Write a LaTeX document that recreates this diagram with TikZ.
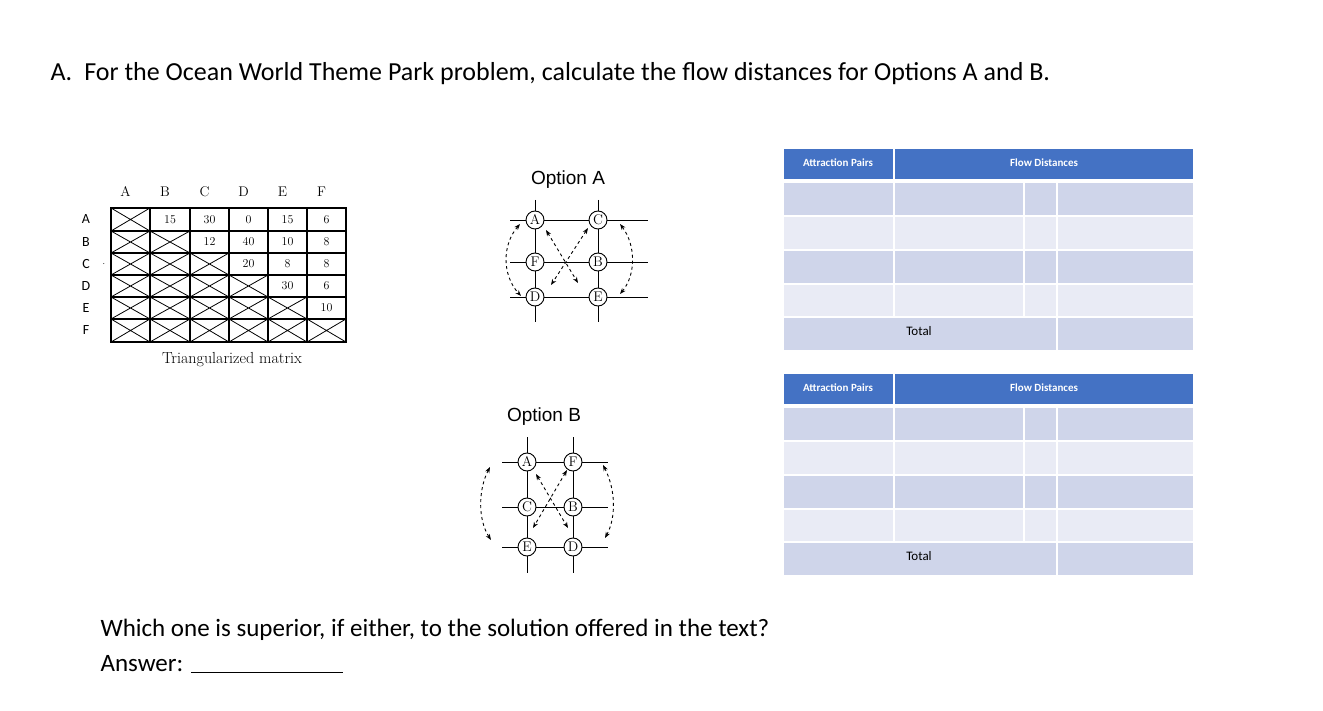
\documentclass[tikz,border=0pt]{standalone}
\usepackage{fontspec}
\setmainfont{Carlito}
\newfontfamily\serifm{Latin Modern Roman}
\newfontfamily\arialf{Liberation Sans}
\usetikzlibrary{arrows.meta}
\definecolor{hdr}{HTML}{4472C4}
\definecolor{rdark}{HTML}{CFD5EA}
\definecolor{rlight}{HTML}{E9EBF5}
\tikzset{
 circ/.style={circle,draw,line width=0.9pt,fill=white,minimum size=18pt,inner sep=0pt,font=\serifm\fontsize{14}{14}\selectfont},
 gridln/.style={line width=0.9pt},
 flowarr/.style={dashed,line width=0.9pt,{Stealth[length=6pt]}-{Stealth[length=6pt]}},
 cellx/.style={line width=0.8pt},
}
\begin{document}
\begin{tikzpicture}[x=1pt,y=-1pt]
\useasboundingbox (0,0) rectangle (1323,711);
\node[anchor=base west,font=\fontsize{26}{26}\selectfont] (title) at (47,81) {A.\hspace{12pt}For the Ocean World Theme Park problem, calculate the flow distances for Options A and B.};
% matrix
\def\xs{{111,150,190,229,268,307,346}}
\def\ys{{208,231,253,275,297,319,342}}
\foreach \r in {0,...,5}{\foreach \c in {0,...,5}{
 \pgfmathtruncatemacro\cn{\c+1}\pgfmathtruncatemacro\rn{\r+1}
 \pgfmathsetmacro\xa{\xs[\c]}\pgfmathsetmacro\xb{\xs[\cn]}
 \pgfmathsetmacro\ya{\ys[\r]}\pgfmathsetmacro\yb{\ys[\rn]}
 \draw[line width=1.2pt] (\xa,\ya) rectangle (\xb,\yb);
 \ifnum\c>\r\else \draw[cellx] (\xa,\ya)--(\xb,\yb) (\xa,\yb)--(\xb,\ya);\fi
}}
\foreach \l [count=\i from 0] in {A,B,C,D,E,F}{
 \pgfmathtruncatemacro\ii{\i+1}
 \pgfmathsetmacro\xa{\xs[\i]}\pgfmathsetmacro\xb{\xs[\ii]}
 \pgfmathsetmacro\ya{\ys[\i]}\pgfmathsetmacro\yb{\ys[\ii]}
 \node[font=\serifm\fontsize{14}{14}\selectfont] (col\l) at ({(\xa+\xb)/2-5},192) {\l};
 \node[font=\fontsize{14}{14}\selectfont] (row\l) at (86,{(\ya+\yb)/2}) {\l};
}
\node[font=\fontsize{8}{8}\selectfont] (dot) at (104,264) {.};
\foreach \v/\r/\c in {15/0/1,30/0/2,0/0/3,15/0/4,6/0/5,12/1/2,40/1/3,10/1/4,8/1/5,20/2/3,8/2/4,8/2/5,30/3/4,6/3/5,10/4/5}{
 \pgfmathtruncatemacro\cn{\c+1}\pgfmathtruncatemacro\rn{\r+1}
 \pgfmathsetmacro\xa{\xs[\c]}\pgfmathsetmacro\xb{\xs[\cn]}
 \pgfmathsetmacro\ya{\ys[\r]}\pgfmathsetmacro\yb{\ys[\rn]}
 \node[font=\serifm\fontsize{12}{12}\selectfont] at ({(\xa+\xb)/2},{(\ya+\yb)/2}) {\v};
}
\node[font=\serifm\fontsize{16}{16}\selectfont] (cap) at (232,360) {Triangularized matrix};
% Option A
\node[font=\arialf\fontsize{19}{19}\selectfont] (oa) at (568,180) {Option A};
\foreach \y in {220,262,297}{\draw[gridln] (510,\y)--(648,\y);}
\foreach \x in {535,598}{\draw[gridln] (\x,200)--(\x,322);}
\node[circ] (aA) at (535,220) {A}; \node[circ] (aC) at (598,220) {C};
\node[circ] (aF) at (535,262) {F}; \node[circ] (aB) at (598,262) {B};
\node[circ] (aD) at (535,297) {D}; \node[circ] (aE) at (598,297) {E};
\draw[flowarr] (520,224) .. controls (502,245) and (502,275) .. (521,296);
\draw[flowarr] (620,224) .. controls (636,245) and (636,275) .. (620,294);
\draw[flowarr] (546,230)--(578,283);
\draw[flowarr] (588,228)--(551,285);
% Option B
\node[font=\arialf\fontsize{19}{19}\selectfont] (ob) at (544,417) {Option B};
\foreach \y in {462,507,547}{\draw[gridln] (502,\y)--(608,\y);}
\foreach \x in {527,573}{\draw[gridln] (\x,437)--(\x,573);}
\node[circ] (bA) at (527,462) {A}; \node[circ] (bF) at (573,462) {F};
\node[circ] (bC) at (527,507) {C}; \node[circ] (bB) at (573,507) {B};
\node[circ] (bE) at (527,547) {E}; \node[circ] (bD) at (573,547) {D};
\draw[flowarr] (490,467) .. controls (478,490) and (478,520) .. (491,540);
\draw[flowarr] (603,465) .. controls (616,490) and (616,518) .. (605,538);
\draw[flowarr] (536,474)--(568,528);
\draw[flowarr] (567,470)--(533,528);
% tables
\foreach \dy/\tn in {0/1,225/2}{
\begin{scope}[yshift=-\dy]
\fill[hdr] (784,149) rectangle (893,179);
\fill[hdr] (895,149) rectangle (1193,179);
\node[white,font=\bfseries\fontsize{11}{11}\selectfont] (ap\tn) at (838,163) {Attraction Pairs};
\node[white,font=\bfseries\fontsize{11}{11}\selectfont] (fd\tn) at (1044,163) {Flow Distances};
\foreach \ya/\yb/\cl in {183/215/rdark,217/249/rlight,251/283/rdark,285/316/rlight}{
 \fill[\cl] (784,\ya) rectangle (893,\yb);
 \fill[\cl] (895,\ya) rectangle (1023,\yb);
 \fill[\cl] (1025,\ya) rectangle (1056,\yb);
 \fill[\cl] (1058,\ya) rectangle (1193,\yb);
}
\fill[rdark] (784,318) rectangle (1056,350);
\fill[rdark] (1058,318) rectangle (1193,350);
\node[font=\fontsize{13}{13}\selectfont] (tot\tn) at (919,331) {Total};
\end{scope}}
\node[anchor=base west,font=\fontsize{25}{25}\selectfont] (q) at (97,636) {Which one is superior, if either, to the solution offered in the text?};
\node[anchor=base west,font=\fontsize{25}{25}\selectfont] (ans) at (97,671) {Answer: \rule[-2pt]{152pt}{1.2pt}};
\end{tikzpicture}
\end{document}
